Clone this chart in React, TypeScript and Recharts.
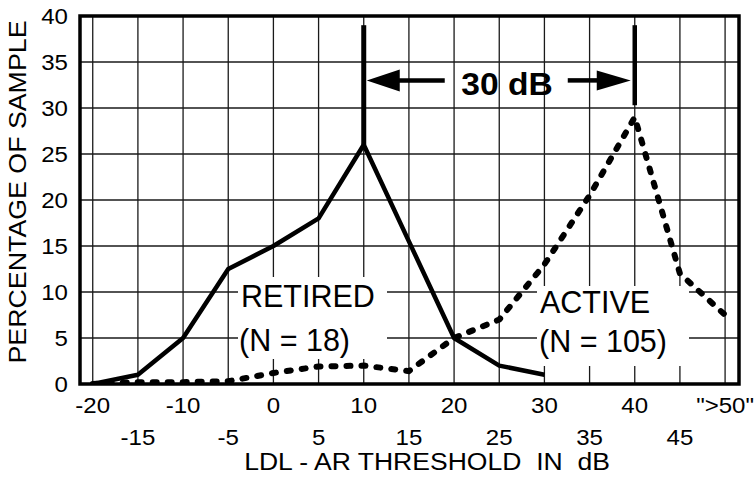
import { LineChart, Line, XAxis, YAxis, CartesianGrid, ReferenceLine, ReferenceDot, ReferenceArea } from "recharts"

const FONT = "'Liberation Sans', Arial, Helvetica, sans-serif"

// LDL - AR threshold (dB); the last bin stands for ">50"
const thresholds = [-20, -15, -10, -5, 0, 5, 10, 15, 20, 25, 30, 35, 40, 45, 50]
const thresholdLabels = ["-20", "-15", "-10", "-5", "0", "5", "10", "15", "20", "25", "30", "35", "40", "45", '">50"']

// percentage of sample per bin
const retired = [0, 1, 5, 12.5, 15, 18, 26, 15.5, 5, 2, 1, null, null, null, null]
const active = [0, 0.2, 0.2, 0.3, 1.2, 1.9, 2, 1.4, 5, 7, 13, 20.5, 29, 12, 7.5]

const yTicks = [0, 5, 10, 15, 20, 25, 30, 35, 40]
const yMinorTicks = [2.5, 7.5, 12.5, 17.5, 22.5, 27.5, 32.5, 37.5]

// peak markers and the gap arrow between them
const retiredPeak = { x: 10, from: 26, to: 39 }
const activePeak = { x: 40, from: 30.3, to: 39 }
const arrowLevel = 33

const X_MIN = -21.41
const X_MAX = 51.54

const rows = thresholds.map((x, i) => ({ x, retired: retired[i], active: active[i] }))

type StretchProps = {
  x: number
  y: number
  size: number
  sx?: number
  anchor?: "start" | "middle" | "end"
  weight?: string
  rotate?: number
  children: string
}

function StretchText({ x, y, size, sx = 1, anchor = "start", weight = "normal", rotate = 0, children }: StretchProps) {
  const t = `translate(${x},${y})${rotate ? ` rotate(${rotate})` : ""} scale(${sx},1)`
  return (
    <text
      transform={t}
      textAnchor={anchor}
      fontSize={size}
      fontWeight={weight}
      fontFamily={FONT}
      fill="#000"
      xmlSpace="preserve"
      style={{ whiteSpace: "pre" }}
    >
      {children}
    </text>
  )
}

function XTick(props: any) {
  const { x, y, payload } = props
  const v = payload.value as number
  const i = thresholds.indexOf(v)
  const lowRow = v % 10 !== 0
  return (
    <StretchText x={x} y={y + (lowRow ? 61 : 29)} size={21.5} sx={1.12} anchor="middle">
      {thresholdLabels[i]}
    </StretchText>
  )
}

function YTick(props: any) {
  const { x, y, payload } = props
  return (
    <StretchText x={x - 12} y={y + 8} size={21.5} sx={1.12} anchor="end">
      {String(payload.value)}
    </StretchText>
  )
}

function LeftArrow(props: any) {
  const { cx, cy } = props
  return (
    <g>
      <polygon points={`${cx + 3},${cy} ${cx + 36},${cy - 11} ${cx + 36},${cy + 11}`} fill="#000" />
      <line x1={cx + 34} y1={cy} x2={cx + 81} y2={cy} stroke="#000" strokeWidth={4.5} />
    </g>
  )
}

function RightArrow(props: any) {
  const { cx, cy } = props
  return (
    <g>
      <polygon points={`${cx - 4},${cy} ${cx - 38},${cy - 10} ${cx - 38},${cy + 10}`} fill="#000" />
      <line x1={cx - 67} y1={cy} x2={cx - 36} y2={cy} stroke="#000" strokeWidth={4.5} />
    </g>
  )
}

export default function App() {
  return (
    <div style={{ position: "absolute", left: 0, top: 0, background: "#fff" }}>
      <LineChart width={754} height={478} data={rows} margin={{ top: 16, right: 15, bottom: 0, left: 0 }}>
        <CartesianGrid stroke="#1a1a1a" strokeWidth={1.3} />
        <XAxis
          dataKey="x"
          type="number"
          domain={[X_MIN, X_MAX]}
          allowDataOverflow
          ticks={thresholds}
          interval={0}
          axisLine={false}
          tickLine={false}
          tickSize={0}
          tickMargin={0}
          height={94}
          tick={<XTick />}
        />
        <YAxis
          type="number"
          domain={[0, 40]}
          allowDataOverflow
          ticks={yTicks}
          interval={0}
          width={80}
          axisLine={false}
          tickLine={false}
          tickSize={0}
          tickMargin={0}
          tick={<YTick />}
        />
        <YAxis
          yAxisId="minor"
          type="number"
          domain={[0, 40]}
          ticks={yMinorTicks}
          interval={0}
          mirror
          axisLine={false}
          tick={false}
          tickSize={6}
          tickLine={{ stroke: "#000", strokeWidth: 1.3 }}
        />

        {/* group labels sit on white so the grid breaks around them */}
        <rect x={238} y={277} width={149} height={82} fill="#fff" />
        <StretchText x={241} y={307} size={30.5}>RETIRED</StretchText>
        <StretchText x={239} y={351} size={30.5}>(N = 18)</StretchText>
        <rect x={537} y={286} width={152} height={80} fill="#fff" />
        <StretchText x={540} y={313} size={30.5}>ACTIVE</StretchText>
        <StretchText x={539} y={352} size={30.5}>(N = 105)</StretchText>

        <ReferenceArea x1={X_MIN} x2={X_MAX} y1={0} y2={40} fill="none" stroke="#000" strokeWidth={3.5} />

        <ReferenceLine
          segment={[{ x: retiredPeak.x, y: retiredPeak.from }, { x: retiredPeak.x, y: retiredPeak.to }]}
          stroke="#000"
          strokeWidth={5}
        />
        <ReferenceLine
          segment={[{ x: activePeak.x, y: activePeak.from }, { x: activePeak.x, y: activePeak.to }]}
          stroke="#000"
          strokeWidth={4.5}
        />
        <ReferenceDot x={retiredPeak.x} y={arrowLevel} shape={<LeftArrow />} />
        <ReferenceDot x={activePeak.x} y={arrowLevel} shape={<RightArrow />} />
        <StretchText x={507} y={95} size={32} sx={1.05} anchor="middle" weight="bold">30 dB</StretchText>

        <Line
          dataKey="retired"
          type="linear"
          stroke="#000"
          strokeWidth={4.5}
          strokeLinejoin="round"
          dot={false}
          activeDot={false}
          isAnimationActive={false}
        />
        <Line
          dataKey="active"
          type="linear"
          stroke="#000"
          strokeWidth={6}
          strokeDasharray="4 11"
          strokeLinecap="round"
          dot={false}
          activeDot={false}
          isAnimationActive={false}
        />

        <StretchText x={26} y={192} size={23.7} sx={1.13} anchor="middle" rotate={-90}>PERCENTAGE OF SAMPLE</StretchText>
        <StretchText x={427} y={470} size={23.7} sx={1.12} anchor="middle">LDL - AR THRESHOLD  IN  dB</StretchText>
      </LineChart>
    </div>
  )
}
